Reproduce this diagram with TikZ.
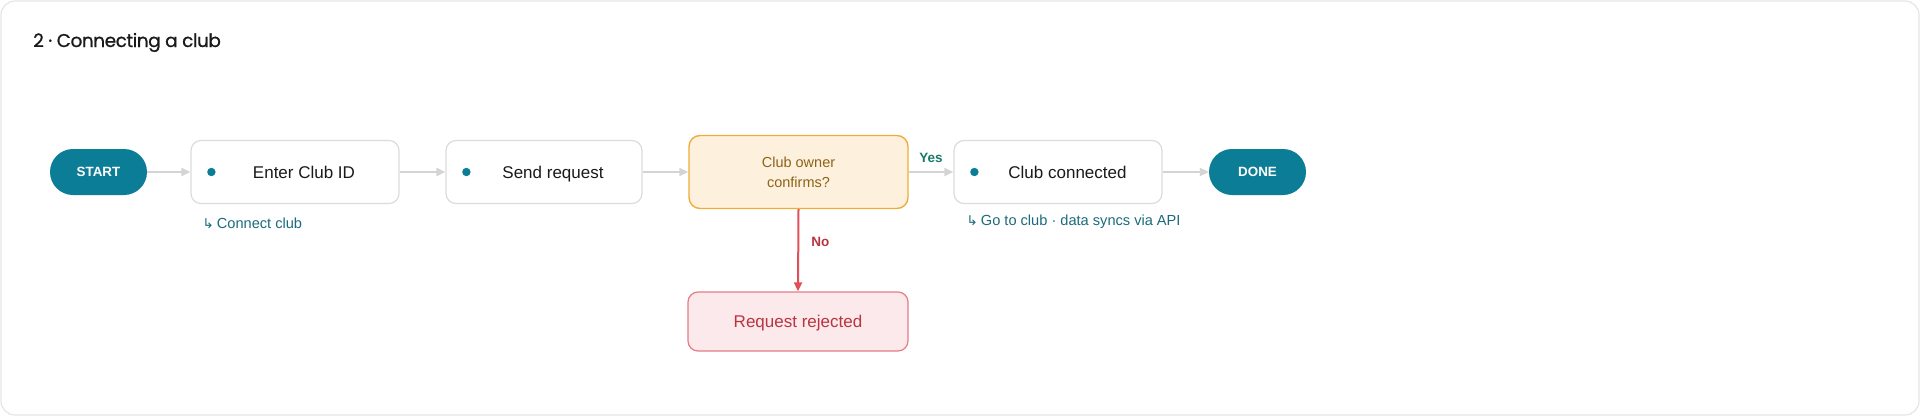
\documentclass[tikz,border=0pt]{standalone}
\usepackage{fontspec}
\setmainfont{Liberation Sans}
\newfontfamily\titlefont{Poppins}[FakeBold=0.8, LetterSpace=-2.5]
\newfontfamily\symfont{DejaVu Sans}
\usetikzlibrary{arrows.meta}

\definecolor{brand}{HTML}{0B7D96}
\definecolor{ink}{HTML}{1A1A1A}
\definecolor{edgegray}{HTML}{D4D4D4}
\definecolor{boxline}{HTML}{DCDCDC}
\definecolor{frameline}{HTML}{E6E6E6}
\definecolor{askfill}{HTML}{FDF0DD}
\definecolor{askline}{HTML}{EEAE3A}
\definecolor{asktext}{HTML}{8C6418}
\definecolor{nofill}{HTML}{FCE9EB}
\definecolor{noline}{HTML}{E57D87}
\definecolor{notext}{HTML}{B93440}
\definecolor{noarrow}{HTML}{E0505A}
\definecolor{yestext}{HTML}{197A68}
\definecolor{hinttext}{HTML}{1C6B7D}

\tikzset{
  term/.style={draw=none, fill=brand, text=white, rounded corners=23pt,
    minimum width=97pt, minimum height=46pt, inner sep=0pt,
    text height=9.6pt, text depth=0pt,
    font=\fontsize{13.4pt}{15pt}\selectfont\bfseries},
  stepbox/.style={draw=boxline, line width=1.2pt, fill=white, rounded corners=10pt,
    minimum height=63pt, inner sep=0pt},
  steptext/.style={text=ink, inner sep=0pt, text height=12.5pt, text depth=0pt,
    font=\fontsize{17pt}{20pt}\selectfont},
  askbox/.style={draw=askline, line width=1.4pt, fill=askfill, rounded corners=11pt,
    minimum width=219pt, minimum height=73pt, inner sep=0pt, align=center,
    text=asktext, font=\fontsize{14.5pt}{20pt}\selectfont},
  rejectbox/.style={draw=noline, line width=1.2pt, fill=nofill, rounded corners=10pt,
    minimum width=220pt, minimum height=59pt, inner sep=0pt,
    text height=12.5pt, text depth=0pt,
    text=notext, font=\fontsize{17pt}{20pt}\selectfont},
  hint/.style={text=hinttext, inner sep=0pt, anchor=west,
    font=\fontsize{14.6pt}{17pt}\selectfont},
  flow/.style={draw=edgegray, line width=2pt,
    -{Triangle[length=9pt,width=8pt]}},
  noflow/.style={draw=noarrow, line width=2pt,
    -{Triangle[length=9pt,width=8pt]}},
  edgelabel/.style={inner sep=0pt, font=\fontsize{13.5pt}{15pt}\selectfont\bfseries},
}

\newcommand{\stepdot}[1]{\fill[brand] ([xshift=21pt]#1.west) circle (4.2pt);}
\newcommand{\hookarrow}{{\symfont\fontsize{13.5pt}{15pt}\selectfont ↳}\hspace{3pt}}

\begin{document}
\begin{tikzpicture}[x=1pt, y=-1pt]
  \useasboundingbox (0,0) rectangle (1920,416);

  % card frame
  \draw[frameline, line width=1.2pt, fill=white, rounded corners=14pt]
    (1,1) rectangle (1919,415);

  % heading
  \node[anchor=base west, inner sep=0pt, text=ink,
        font=\titlefont\fontsize{18.5pt}{22pt}\selectfont] (title) at (33,47)
    {2 · Connecting a club};

  % terminals
  \node[term] (start) at (98.5,172) {START};
  \node[term] (done) at (1257.5,172) {DONE};

  % steps
  \node[stepbox, minimum width=208pt] (enter) at (295,172) {};
  \node[steptext] (enterlbl) at ([xshift=9pt]enter.center) {Enter Club ID};
  \stepdot{enter}

  \node[stepbox, minimum width=196pt] (send) at (544,172) {};
  \node[steptext] (sendlbl) at ([xshift=9pt]send.center) {Send request};
  \stepdot{send}

  \node[askbox] (ask) at (798.5,172) {Club owner\\confirms?};

  \node[stepbox, minimum width=208pt] (connected) at (1058,172) {};
  \node[steptext] (connectedlbl) at ([xshift=9.5pt]connected.center) {Club connected};
  \stepdot{connected}

  \node[rejectbox] (reject) at (798,321.5) {Request rejected};

  % follow-up hints
  \node[hint] (hintenter) at ([xshift=12pt,yshift=-19pt]enter.south west)
    {\hookarrow Connect club};
  \node[hint] (hintconnected) at ([xshift=13pt,yshift=-18pt]connected.south west)
    {\hookarrow Go to club · data syncs via API};

  % connectors
  \draw[flow] (start) -- (enter);
  \draw[flow] (enter) -- (send);
  \draw[flow] (send) -- (ask);
  \draw[flow] (ask) -- node[edgelabel, text=yestext, above, yshift=8pt] {Yes} (connected);
  \draw[flow] (connected) -- (done);
  \draw[noflow] (ask.south) -- node[edgelabel, text=notext, pos=0.4, right=12pt] {No} (reject.north);
\end{tikzpicture}
\end{document}
